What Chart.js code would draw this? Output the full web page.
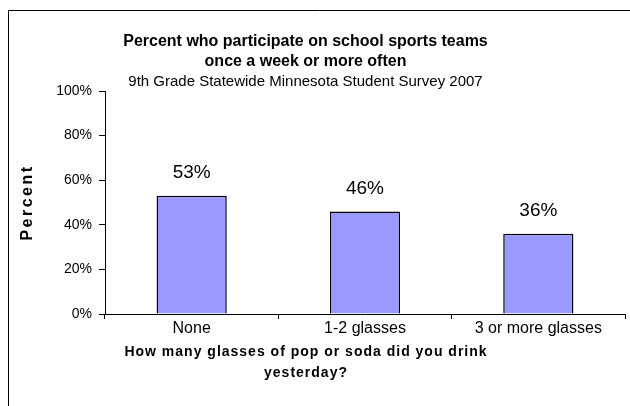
<!DOCTYPE html>
<html><head><meta charset="utf-8">
<style>html,body{margin:0;padding:0;background:#fff;}#wrap{width:630px;height:406px;}</style>
<script src="https://cdn.jsdelivr.net/npm/chart.js@4.4.0/dist/chart.umd.min.js"></script>
</head><body><div id="wrap"><canvas id="c" width="630" height="406"></canvas></div>
<script>
const categories = ["None", "1-2 glasses", "3 or more glasses"];
const percentValues = [53, 46, 36];
const yTickValues = [0, 20, 40, 60, 80, 100];
const titleLines = ["Percent who participate on school sports teams", "once a week or more often"];
const subtitleText = "9th Grade Statewide Minnesota Student Survey 2007";
const xTitleLines = ["How many glasses of pop or soda did you drink", "yesterday?"];
const yTitleText = "Percent";

const FONT = '"Liberation Sans", Arial, sans-serif';

const framePlugin = {
  id: 'frame',
  beforeDraw(chart) {
    const ctx = chart.ctx;
    ctx.save();
    ctx.fillStyle = '#fff';
    ctx.fillRect(0, 0, chart.width, chart.height);
    ctx.strokeStyle = '#000';
    ctx.lineWidth = 1;
    ctx.beginPath();
    ctx.moveTo(8.5, chart.height);
    ctx.lineTo(8.5, 10.5);
    ctx.lineTo(chart.width, 10.5);
    ctx.stroke();
    ctx.restore();
  }
};

const valueLabelPlugin = {
  id: 'valueLabels',
  afterDatasetsDraw(chart) {
    const ctx = chart.ctx;
    const meta = chart.getDatasetMeta(0);
    ctx.save();
    ctx.font = '19px ' + FONT;
    ctx.fillStyle = '#000';
    ctx.textAlign = 'center';
    ctx.textBaseline = 'middle';
    meta.data.forEach((bar, i) => {
      ctx.fillText(percentValues[i] + '%', bar.x, bar.y - 23);
    });
    ctx.restore();
  }
};

const axisTitlePlugin = {
  id: 'axisTitles',
  afterDraw(chart) {
    const ctx = chart.ctx;
    const area = chart.chartArea;
    ctx.save();
    ctx.fillStyle = '#000';
    ctx.textAlign = 'center';
    ctx.textBaseline = 'middle';
    ctx.font = 'bold 14px ' + FONT;
    try { ctx.letterSpacing = '1px'; } catch (e) {}
    const cx = 306;
    xTitleLines.forEach((line, i) => {
      ctx.fillText(line, cx, area.bottom + 38 + i * 21);
    });
    ctx.font = 'bold 16px ' + FONT;
    try { ctx.letterSpacing = '2.5px'; } catch (e) {}
    ctx.translate(28, (area.top + area.bottom) / 2);
    ctx.rotate(-Math.PI / 2);
    ctx.fillText(yTitleText, 0, 0);
    ctx.restore();
  }
};

new Chart(document.getElementById('c'), {
  type: 'bar',
  data: {
    labels: categories,
    datasets: [{
      data: percentValues,
      backgroundColor: '#9999FF',
      borderColor: '#000',
      borderWidth: 1.5,
      barPercentage: 0.405,
      categoryPercentage: 1
    }]
  },
  options: {
    responsive: false,
    animation: false,
    layout: { padding: { left: -14, right: 5, top: 0, bottom: 0 } },
    plugins: {
      legend: { display: false },
      tooltip: { enabled: false },
      title: {
        display: true,
        text: titleLines,
        color: '#000',
        font: { family: FONT, size: 16, weight: 'bold', lineHeight: 1.25 },
        padding: { top: 32, bottom: 0 }
      },
      subtitle: {
        display: true,
        text: subtitleText,
        color: '#000',
        font: { family: FONT, size: 15, lineHeight: 19 / 15 },
        padding: { top: 0, bottom: 0 }
      }
    },
    scales: {
      x: {
        offset: true,
        grid: { offset: true, drawOnChartArea: false, drawTicks: true, tickLength: 5, color: '#000' },
        border: { display: true, color: '#000', width: 1 },
        ticks: { color: '#000', font: { family: FONT, size: 16 }, padding: 0, autoSkip: false, maxRotation: 0 },
        afterFit(scale) { scale.height = 92; }
      },
      y: {
        min: 0, max: 100,
        afterBuildTicks(scale) { scale.ticks = yTickValues.map(v => ({ value: v })); },
        grid: { drawOnChartArea: false, drawTicks: true, tickLength: 6, color: '#000' },
        border: { display: true, color: '#000', width: 1 },
        ticks: { color: '#000', font: { family: FONT, size: 14 }, padding: 7, callback: v => v + '%' },
        afterFit(scale) { scale.width = 119; }
      }
    }
  },
  plugins: [framePlugin, valueLabelPlugin, axisTitlePlugin]
});
</script></body></html>
